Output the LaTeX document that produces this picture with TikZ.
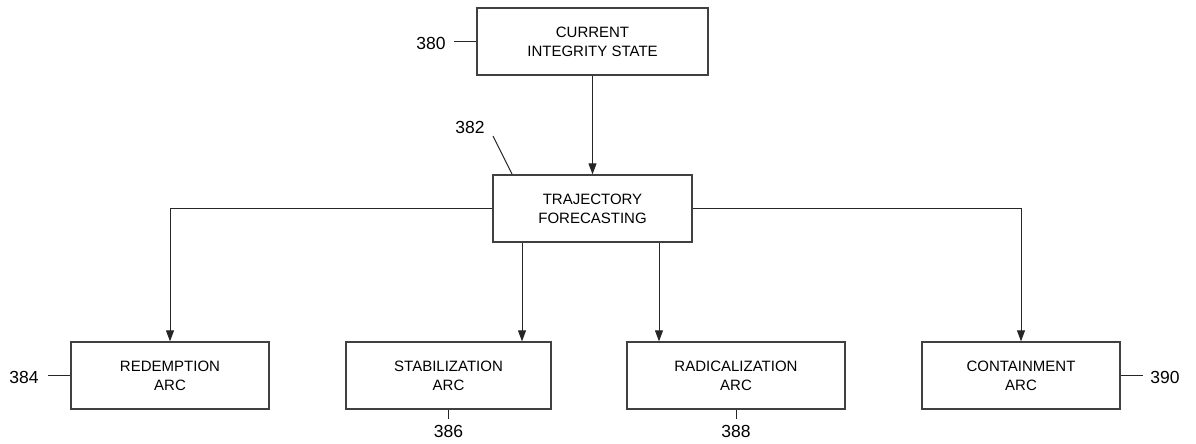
\documentclass[tikz,border=0pt]{standalone}
\usepackage{fontspec}
\setmainfont{Liberation Sans}
\usetikzlibrary{arrows.meta}
\begin{document}
\begin{tikzpicture}[x=1pt,y=-1pt,
  box/.style={draw=black!75,line width=1.3pt,rectangle,minimum height=67pt,align=center,inner sep=0pt,font=\fontsize{15}{19}\selectfont},
  arr/.style={draw=black!85,line width=1pt,-{Triangle[length=11pt,width=8pt]}},
  lead/.style={draw=black!85,line width=1pt},
  num/.style={font=\fontsize{17.5}{20}\selectfont,inner sep=0pt}]
\useasboundingbox (0,0) rectangle (1196,444);
\node[box,minimum width=231pt] (cur) at (592.5,41.5) {CURRENT\\INTEGRITY STATE};
\node[box,minimum width=199pt] (traj) at (592.5,208.5) {TRAJECTORY\\FORECASTING};
\node[box,minimum width=198pt] (red) at (170,375.5) {REDEMPTION\\ARC};
\node[box,minimum width=205pt] (stab) at (448.5,375.5) {STABILIZATION\\ARC};
\node[box,minimum width=218pt] (rad) at (736,375.5) {RADICALIZATION\\ARC};
\node[box,minimum width=198pt] (cont) at (1021,375.5) {CONTAINMENT\\ARC};
\coordinate (sx) at (522,0);
\coordinate (rx) at (659,0);
\draw[arr] (cur.south) -- (traj.north);
\draw[arr] (traj.west) -| (red.north);
\draw[arr] (traj.east) -| (cont.north);
\draw[arr] (traj.south -| sx) -- (stab.north -| sx);
\draw[arr] (traj.south -| rx) -- (rad.north -| rx);
% labels
\node[num] (n380) at (431,43) {380};
\coordinate (l380) at (454,41.5);
\draw[lead] (l380) -- (cur.west);
\node[num] (n382) at (470,127) {382};
\coordinate (l382a) at (493,136);
\coordinate (l382b) at (512,174);
\draw[lead] (l382a) -- (l382b);
\node[num] (n384) at (24,377) {384};
\coordinate (l384) at (48,375.5);
\draw[lead] (l384) -- (red.west);
\node[num] (n386) at (448.5,431) {386};
\coordinate (l386) at (448.5,419);
\draw[lead] (stab.south) -- (l386);
\node[num] (n388) at (736,431) {388};
\coordinate (l388) at (736,419);
\draw[lead] (rad.south) -- (l388);
\node[num] (n390) at (1165,377) {390};
\coordinate (l390) at (1143,375.5);
\draw[lead] (cont.east) -- (l390);
\end{tikzpicture}
\end{document}
